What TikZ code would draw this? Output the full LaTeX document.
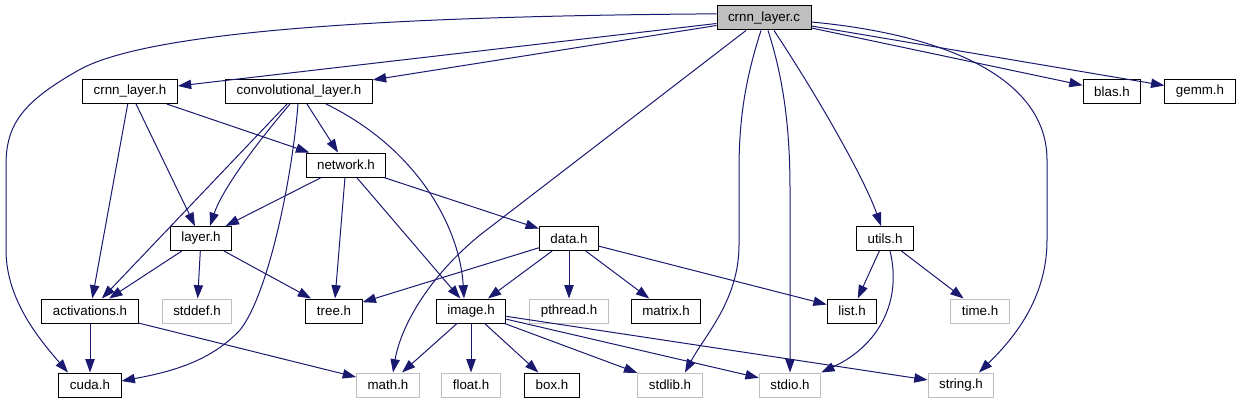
\documentclass[tikz,border=0pt]{standalone}
\usepackage{fontspec}
\setmainfont{Liberation Sans}
\usetikzlibrary{arrows.meta, calc}
\definecolor{edgeblue}{HTML}{191970}
\definecolor{softgrey}{HTML}{BFBFBF}

\begin{document}
\begin{tikzpicture}[
  x=0.75pt, y=-0.75pt,
  file/.style={draw, line width=0.75pt, minimum height=18pt, inner xsep=8.3pt, inner ysep=0pt, font=\fontsize{10}{12}\selectfont, fill=white},
  sysfile/.style={file, draw=softgrey},
  mainfile/.style={file, fill=softgrey},
  arrow/.style={-{Triangle[length=10pt,width=7pt]}, edgeblue, line width=0.75pt}
]
\useasboundingbox (0,0) rectangle (1237,403);

% Nodes
\node[mainfile] (crnnc) at (764,18) {crnn\_layer.c};
\node[file] (crnnh) at (130,91.5) {crnn\_layer.h};
\node[file] (conv) at (299,91.5) {convolutional\_layer.h};
\node[file] (blas) at (1112,91.5) {blas.h};
\node[file] (gemm) at (1200,91.5) {gemm.h};
\node[file] (network) at (346,165) {network.h};
\node[file] (layer) at (201,238.5) {layer.h};
\node[file] (data) at (569,238.5) {data.h};
\node[file] (utils) at (885,238.5) {utils.h};
\node[file] (act) at (90,311) {activations.h};
\node[sysfile] (stddef) at (197,311) {stddef.h};
\node[file] (tree) at (334,311) {tree.h};
\node[file] (image) at (471,311) {image.h};
\node[sysfile] (pthread) at (569,311) {pthread.h};
\node[file] (matrix) at (666,311) {matrix.h};
\node[file] (list) at (852,311) {list.h};
\node[sysfile] (time) at (980,311) {time.h};
\node[file] (cuda) at (90,385) {cuda.h};
\node[sysfile] (math) at (388,385) {math.h};
\node[sysfile] (float) at (471,385) {float.h};
\node[file] (box) at (552,385) {box.h};
\node[sysfile] (stdlib) at (670,385) {stdlib.h};
\node[sysfile] (stdio) at (790,385) {stdio.h};
\node[sysfile] (string) at (961,385) {string.h};

% Arrows from crnn_layer.c
\draw[arrow] (crnnc) -- (crnnh);
\draw[arrow] (crnnc) -- (conv);
\draw[arrow] (crnnc) -- (blas);
\draw[arrow] (crnnc) -- (gemm);
\draw[arrow] (crnnc.175) .. controls (400,16) and (150,30) .. (79,70) .. controls (22,102) and (6,125) .. (6,165) -- (6,250) .. controls (6,300) and (40,340) .. ($(cuda.north)+(-22,0)$);
\draw[arrow] ($(crnnc.south)+(-18,0)$) -- (480,235) .. controls (425,280) and (400,330) .. ($(math.north)+(5,0)$);
\draw[arrow] ($(crnnc.south)+(-3,0)$) .. controls (745,80) and (739,120) .. (739,170) -- (739,245) .. controls (739,300) and (705,335) .. ($(stdlib.north)+(15,0)$);
\draw[arrow] ($(crnnc.south)+(4,0)$) .. controls (784,80) and (790,130) .. (790,190) -- (stdio);
\draw[arrow] ($(crnnc.south)+(10,0)$) .. controls (820,100) and (865,180) .. ($(utils.north)+(-4,0)$);
\draw[arrow] ($(crnnc.east)+(0,4)$) .. controls (950,35) and (1047,80) .. (1047,160) -- (1047,240) .. controls (1047,300) and (1012,340) .. ($(string.north)+(18,0)$);

% Arrows from crnn_layer.h and convolutional_layer.h
\draw[arrow] (crnnh) -- (act);
\draw[arrow] (crnnh) -- (layer);
\draw[arrow] (crnnh) -- (network);
\draw[arrow] (conv) -- (act);
\draw[arrow] ($(conv.south)+(-9,0)$) .. controls (255,145) and (222,190) .. ($(layer.north)+(9,0)$);
\draw[arrow] ($(conv.south)+(-1,0)$) .. controls (292,180) and (268,295) .. (240,330) .. controls (210,362) and (170,372) .. ($(cuda.east)+(0,-4)$);
\draw[arrow] (conv) -- (network);
\draw[arrow] ($(conv.south)+(27,0)$) .. controls (420,150) and (460,230) .. ($(image.north)+(-7,0)$);

% Arrows from network.h, layer.h, data.h, utils.h
\draw[arrow] (network) -- (layer);
\draw[arrow] (network) -- (tree);
\draw[arrow] (network) -- (image);
\draw[arrow] (network) -- (data);
\draw[arrow] (layer) -- (act);
\draw[arrow] (layer) -- (stddef);
\draw[arrow] (layer) -- (tree);
\draw[arrow] (data) -- (tree);
\draw[arrow] (data) -- (image);
\draw[arrow] (data) -- (pthread);
\draw[arrow] (data) -- (matrix);
\draw[arrow] (data) -- (list);
\draw[arrow] (utils) -- (list);
\draw[arrow] ($(utils.south)+(5,0)$) .. controls (902,300) and (880,345) .. (stdio.north east);
\draw[arrow] (utils) -- (time);

% Arrows from activations.h and image.h
\draw[arrow] (act) -- (cuda);
\draw[arrow] (act) -- (math);
\draw[arrow] (image) -- (math);
\draw[arrow] (image) -- (float);
\draw[arrow] (image) -- (box);
\draw[arrow] (image) -- (stdlib);
\draw[arrow] (image) -- (stdio);
\draw[arrow] (image) -- (string);

\end{tikzpicture}
\end{document}
